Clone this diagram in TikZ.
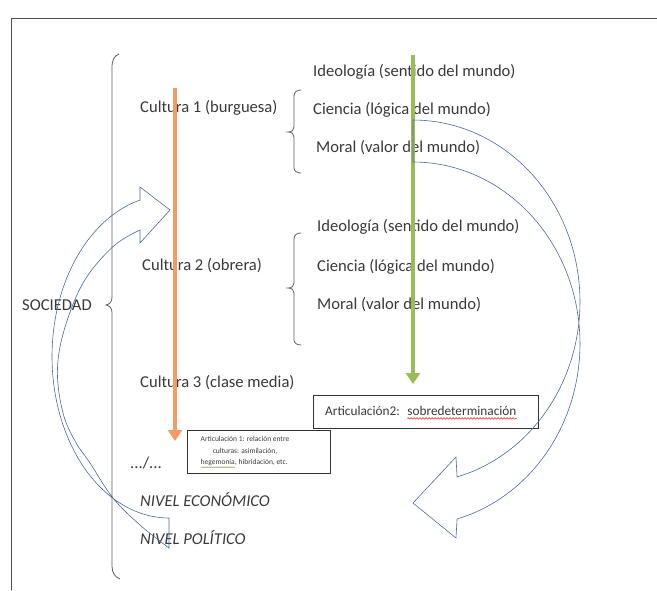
\documentclass[tikz,border=0pt]{standalone}
\usepackage{fontspec}
\setmainfont{Carlito}
\usetikzlibrary{arrows.meta,decorations.pathmorphing}
\definecolor{txt}{HTML}{3A3A3A}
\definecolor{orng}{HTML}{F39B62}
\definecolor{grn}{HTML}{9BBB59}
\definecolor{blueline}{HTML}{4F6A96}
\definecolor{bracegray}{HTML}{606060}
\definecolor{framegray}{HTML}{505050}
\begin{document}
\begin{tikzpicture}[x=1pt,y=-1pt,
  lbl/.style={anchor=west,inner sep=0pt,font=\fontsize{16.6}{18}\selectfont,text=txt},
  nivel/.style={lbl,font=\fontsize{16.6}{18}\selectfont\itshape},
  small/.style={inner sep=0pt,text=txt,font=\fontsize{7.5}{9}\selectfont},
  brc/.style={draw=bracegray,line width=0.8pt},
  curv/.style={draw=blueline,line width=0.6pt,line join=miter},
  boxst/.style={draw=black!80,line width=0.8pt,anchor=north west,inner sep=0pt},
  orangearrow/.style={draw=orng,line width=4pt,-{Triangle[width=14pt,length=11pt]}},
  greenarrow/.style={draw=grn,line width=4pt,-{Triangle[width=14pt,length=11pt]}},
  wavy/.style={decorate,decoration={snake,amplitude=0.8pt,segment length=3pt},line width=0.4pt}
  ]
\useasboundingbox (0,0) rectangle (657,590);
\fill[white] (0,0) rectangle (657,590);
% frame
\draw[framegray,line width=0.9pt] (11,590) -- (11,18) -- (657,18);

% big brace
\draw[brc] (119,54) .. controls (114,56) and (112,60) .. (112,68) -- (112,297)
  .. controls (112,302) and (110,304) .. (106,305)
  .. controls (110,306) and (112,308) .. (112,313) -- (112,566)
  .. controls (112,573) and (115,577) .. (120,579);
% small braces
\draw[brc] (301,90) .. controls (297,90) and (294,92) .. (294,96) -- (294,127)
  .. controls (294,130) and (292,132) .. (288,132)
  .. controls (292,132) and (294,134) .. (294,137) -- (294,168)
  .. controls (294,171) and (297,173) .. (301,173);
\draw[brc] (301,233) .. controls (297,233) and (294,235) .. (294,239) -- (294,283)
  .. controls (294,286) and (292,288) .. (288,288)
  .. controls (292,288) and (294,290) .. (294,293) -- (294,340)
  .. controls (294,343) and (297,345) .. (301,345);

% texts
\node[lbl] (soc) at (22,305) {SOCIEDAD};
\node[lbl] (c1) at (140,108) {Cultura 1 (burguesa)};
\node[lbl] (c2) at (142,266) {Cultura 2 (obrera)};
\node[lbl] (c3) at (140,383) {Cultura 3 (clase media)};
\node[lbl] (i1) at (313,72) {Ideología (sentido del mundo)};
\node[lbl] (s1) at (313,110) {Ciencia (lógica del mundo)};
\node[lbl] (m1) at (316,148) {Moral (valor del mundo)};
\node[lbl] (i2) at (317,227) {Ideología (sentido del mundo)};
\node[lbl] (s2) at (317,267) {Ciencia (lógica del mundo)};
\node[lbl] (m2) at (317,305) {Moral (valor del mundo)};
\node[lbl] (dots) at (130,463) {.../...};
\node[nivel] (neco) at (140,500) {NIVEL ECONÓMICO};
\node[nivel] (npol) at (140,538) {NIVEL POLÍTICO};

% articulation boxes
\node[boxst,minimum width=225pt,minimum height=33pt] (art2) at (313,395) {};
\node[lbl,font=\fontsize{13.3}{15}\selectfont] (art2t) at (325,411) {Articulación2:};
\node[lbl,font=\fontsize{13.3}{15}\selectfont] (sobre) at ([xshift=7pt]art2t.east) {sobredeterminación};
\draw[red,wavy] ([yshift=-2.5pt]sobre.south west) -- ([yshift=-2.5pt]sobre.south east);

\node[boxst,minimum width=143pt,minimum height=43pt] (art1) at (187,430) {};
\node[small,anchor=base] (l1) at (245,441.5) {Articulación 1: relación entre};
\node[small,anchor=base] (l2) at (245,453) {culturas: asimilación,};
\node[small,anchor=base west] (hege) at (200.5,464.5) {hegemonía,};
\node[small,anchor=base west] (hibr) at (hege.base east) {\ hibridación, etc.};
\draw[grn!80!black,decorate,decoration={snake,amplitude=0.5pt,segment length=2pt},line width=0.3pt]
  ([yshift=-1.2pt]hege.south west) -- ([yshift=-1.2pt,xshift=-2pt]hege.south east);

% left curved arrow (outline)
\draw[curv] plot[smooth,tension=0.6] coordinates {(169,548) (140,525) (113,498) (90,463) (75,441) (63,413)
    (57.4,372) (63.8,331.3) (83.2,282.7) (113,246.6) (140,230)}
  -- (140,243) -- (170,210) -- (140,187)
  -- plot[domain=255.65:90,samples=80] ({169+117*cos(\x)},{356.5+161.5*sin(\x)}) -- cycle;

% coloured arrows
\coordinate (ostart) at (175,88);
\coordinate (oend) at (175,441);
\coordinate (gstart) at (413,55);
\coordinate (gend) at (413,384);
\draw[orangearrow] (ostart) -- (oend);
\draw[greenarrow] (gstart) -- (gend);

% right curved arrow (outline)
\draw[curv] plot[domain=-90:74.7,samples=80] ({413+167*cos(\x)},{301.7+181.7*sin(\x)})
  -- (456,457) -- (413,503) -- (456,538)
  -- plot[domain=74.7:-90,samples=80] ({413+167*cos(\x)},{343.7+181.7*sin(\x)}) -- cycle;
\end{tikzpicture}
\end{document}
